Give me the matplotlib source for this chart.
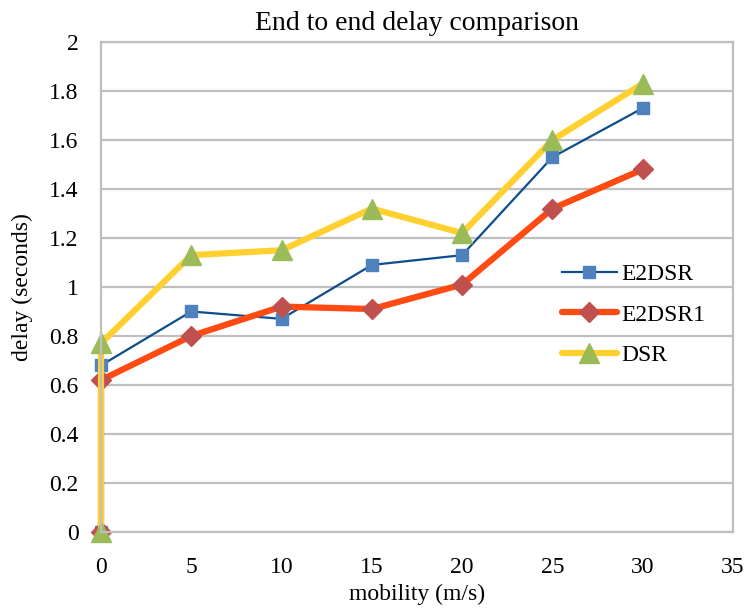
import matplotlib
matplotlib.use("Agg")
import matplotlib.pyplot as plt

# Data
mobility = [0, 0, 5, 10, 15, 20, 25, 30]
e2dsr = [0, 0.68, 0.90, 0.87, 1.09, 1.13, 1.53, 1.73]
e2dsr1 = [0, 0.62, 0.80, 0.92, 0.91, 1.01, 1.32, 1.48]
dsr = [0, 0.77, 1.13, 1.15, 1.32, 1.22, 1.60, 1.83]

y_ticks = [0, 0.2, 0.4, 0.6, 0.8, 1, 1.2, 1.4, 1.6, 1.8, 2]
y_tick_labels = ["0", "0.2", "0.4", "0.6", "0.8", "1", "1.2", "1.4", "1.6", "1.8", "2"]

plt.rcParams["font.family"] = ["Liberation Serif", "DejaVu Serif"]

fig = plt.figure(figsize=(7.46, 6.15), dpi=100)
ax = fig.add_axes([0.1354, 0.135, 0.8472, 0.7967])

ax.plot(mobility, e2dsr, color="#0E4D8C", lw=1.6, marker="s", ms=9,
        mfc="#4F81BD", mec="#4F81BD", label="E2DSR", clip_on=False)
ax.plot(mobility, e2dsr1, color="#FF4A12", lw=4.5, marker="D", ms=10,
        mfc="#C0504D", mec="#C0504D", label="E2DSR1", clip_on=False,
        solid_capstyle="round")
ax.plot(mobility, dsr, color="#FFD030", lw=4.5, marker="^", ms=14,
        mfc="#9BBB59", mec="#9BBB59", label="DSR", clip_on=False,
        solid_capstyle="round")

ax.set_xlim(0, 35)
ax.set_ylim(0, 2)
ax.set_xticks(range(0, 36, 5))
ax.set_yticks(y_ticks)
ax.set_yticklabels(y_tick_labels)
ax.tick_params(axis="both", length=0, labelsize=17)
ax.tick_params(axis="x", pad=18)
ax.tick_params(axis="y", pad=16)

ax.grid(axis="y", color="#BFBFBF", lw=1.6)
ax.set_axisbelow(True)
for s in ax.spines.values():
    s.set_color("#BFBFBF")
    s.set_linewidth(1.6)

ax.set_title("End to end delay comparison", fontsize=20, pad=9)
ax.set_xlabel("mobility (m/s)", fontsize=17, labelpad=4)
ax.set_ylabel("delay (seconds)", fontsize=17, labelpad=12)

ax.legend(loc="upper left", bbox_to_anchor=(0.715, 0.567), frameon=False,
          fontsize=17, handlelength=2.3, handletextpad=0.2,
          labelspacing=0.8, numpoints=1, borderaxespad=0)

fig.savefig("out.png", dpi=100)
